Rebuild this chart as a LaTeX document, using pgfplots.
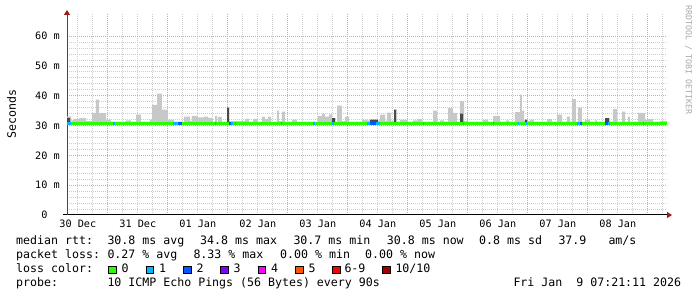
\documentclass[border=0pt]{standalone}
\usepackage{fontspec}
\setmonofont{DejaVu Sans Mono}
\usepackage{pgfplots}
\usepackage{pgfplotstable}
\pgfplotsset{compat=1.18}
\usepgfplotslibrary{fillbetween}
\usetikzlibrary{arrows.meta}
\definecolor{lossA}{HTML}{26FF00}
\definecolor{lossB}{HTML}{00B8FF}
\definecolor{lossC}{HTML}{0059FF}
\definecolor{lossD}{HTML}{7E00FF}
\definecolor{lossE}{HTML}{FF00FF}
\definecolor{lossF}{HTML}{FF5500}
\definecolor{lossG}{HTML}{FF0000}
\definecolor{lossH}{HTML}{A00000}
\definecolor{smoke}{HTML}{C8C8C8}
\definecolor{smokedark}{HTML}{4A4A4A}
\definecolor{gridminor}{HTML}{CDCDCD}
\definecolor{gridmajor}{HTML}{E6A0A0}
\definecolor{arrowred}{HTML}{9B1B1B}
\definecolor{wm}{HTML}{A8A8A8}
\newcommand{\axfont}{\ttfamily\fontsize{10.2bp}{12bp}\selectfont}
\newcommand{\lgfont}{\ttfamily\fontsize{11.6bp}{14bp}\selectfont}
\newcommand{\swatch}[1]{\raisebox{-1bp}{\setlength{\fboxsep}{0pt}\setlength{\fboxrule}{1bp}\fcolorbox{black}{#1}{\rule{0pt}{6.3bp}\rule{6.3bp}{0pt}}}}

% smoke (max of pings), const plot, days since 30 Dec 00:00
\pgfplotstableread{
x y
0.320 33.1
0.387 31.8
0.420 32.2
0.520 32.5
0.637 31.6
0.737 34.2
0.803 38.7
0.853 34.2
0.970 32.0
1.053 31.3
1.303 31.8
1.387 31.3
1.470 33.7
1.553 31.3
1.703 32.0
1.737 37.0
1.820 40.7
1.903 35.4
2.003 32.0
2.103 31.3
2.270 33.0
2.370 31.6
2.403 33.3
2.503 32.8
2.603 33.0
2.670 32.6
2.753 31.3
2.787 33.3
2.820 31.3
2.837 32.9
2.903 31.3
2.987 36.0
3.020 31.5
3.287 32.3
3.353 31.3
3.420 32.3
3.503 31.3
3.570 33.0
3.620 32.3
3.670 33.0
3.720 31.3
3.820 35.0
3.853 31.5
3.903 34.7
3.953 31.3
4.070 32.0
4.153 31.3
4.503 33.3
4.570 34.0
4.620 33.0
4.687 33.8
4.737 32.5
4.787 31.3
4.820 36.7
4.903 31.5
4.953 33.0
5.020 31.3
5.237 32.0
5.320 31.8
5.537 33.7
5.620 31.6
5.653 34.4
5.720 31.6
5.770 35.4
5.820 31.3
5.870 32.0
6.003 31.3
6.087 31.8
6.170 32.2
6.237 31.3
6.420 35.0
6.487 31.3
6.537 31.8
6.603 31.3
6.670 35.9
6.753 34.3
6.820 31.3
6.870 38.2
6.937 31.6
7.003 31.3
7.253 32.0
7.337 31.3
7.420 33.3
7.537 31.3
7.637 31.8
7.687 31.3
7.787 34.5
7.870 40.4
7.903 35.0
7.937 31.6
8.037 32.0
8.103 31.3
8.320 32.2
8.403 31.3
8.487 33.7
8.570 31.3
8.653 33.0
8.703 31.3
8.737 38.9
8.803 31.3
8.837 36.0
8.903 31.3
8.953 32.0
9.037 31.3
9.120 31.8
9.153 31.3
9.287 32.5
9.370 31.3
9.420 35.5
9.487 31.3
9.570 34.7
9.620 31.3
9.670 33.0
9.703 31.3
9.837 34.3
9.953 32.0
9.987 32.2
10.087 31.3
10.203 31.6
10.320 31.6
}\smoketab

% darker smoke
\pgfplotstableread{
x y
0.320 32.6
0.370 30.5
2.987 36.0
3.020 30.5
4.737 32.5
4.787 30.5
5.370 32.0
5.503 30.5
5.770 35.4
5.803 30.5
6.870 34.0
6.920 30.5
7.953 32.0
7.987 30.5
9.287 32.5
9.353 30.5
10.320 30.5
}\darktab

\begin{document}
\begin{tikzpicture}
\begin{axis}[
  at={(67bp,82bp)}, anchor=south west,
  scale only axis, width=600bp, height=202bp,
  xmin=0.32, xmax=10.32, ymin=0, ymax=67.8,
  axis lines*=left,
  x axis line style={black, line width=1bp, shorten >=-5bp, shorten <=-4bp, -{Triangle[length=5bp,width=6bp,color=arrowred]}},
  y axis line style={gray!55!black, line width=1bp, shorten >=-3bp, -{Triangle[length=5bp,width=6bp,color=arrowred]}},
  xtick={0.5,1.5,...,9.5},
  xticklabels={30 Dec,31 Dec,01 Jan,02 Jan,03 Jan,04 Jan,05 Jan,06 Jan,07 Jan,08 Jan},
  minor xtick={0.5,0.75,1.25,1.5,1.75,2.25,2.5,2.75,3.25,3.5,3.75,4.25,4.5,4.75,5.25,5.5,5.75,6.25,6.5,6.75,7.25,7.5,7.75,8.25,8.5,8.75,9.25,9.5,9.75,10.25},
  extra x ticks={1,2,3,4,5,6,7,8,9,10},
  extra x tick labels={},
  extra x tick style={grid=major},
  xmajorgrids=false, xminorgrids=true,
  ytick={0,10,20,30,40,50,60},
  yticklabels={0\hphantom{\ m},10 m,20 m,30 m,40 m,50 m,60 m},
  minor y tick num=4,
  ymajorgrids=true, yminorgrids=true,
  major grid style={gridmajor, line width=1bp, dash pattern=on 1bp off 1bp},
  minor grid style={gridminor, line width=1bp, dash pattern=on 1bp off 1bp},
  major tick length=0pt, minor tick length=0pt,
  xticklabel style={font=\axfont, anchor=base, inner sep=0pt, yshift=-12.3bp},
  yticklabel style={font=\axfont, anchor=east, inner sep=0pt, xshift=-7bp},
]
\addplot[name path=smk, draw=none, const plot] table[x=x,y=y] {\smoketab};
\addplot[name path=dk, draw=none, const plot] table[x=x,y=y] {\darktab};
\addplot[name path=base, draw=none] coordinates {(0.32,30.5) (10.32,30.5)};
\addplot[smoke, draw=none] fill between[of=smk and base];
\addplot[smokedark, draw=none] fill between[of=dk and base];
% median rtt, coloured by loss
\addplot[lossA, line width=3.3bp] coordinates {(0.32,30.8) (10.32,30.8)};
\addplot[lossB, line width=3.3bp, unbounded coords=jump] coordinates {
(0.320,30.8) (0.387,30.8) (0.40,nan)
(1.087,30.8) (1.120,30.8) (1.13,nan)
(2.087,30.8) (2.153,30.8) (2.16,nan)
(2.787,30.8) (2.803,30.8) (2.81,nan)
(3.020,30.8) (3.087,30.8) (3.10,nan)
(3.120,30.8) (3.137,30.8) (3.14,nan)
(3.887,30.8) (3.903,30.8) (3.91,nan)
(4.420,30.8) (4.453,30.8) (4.46,nan)
(4.737,30.8) (4.770,30.8) (4.78,nan)
(5.320,30.8) (5.370,30.8) (5.38,nan)
(5.470,30.8) (5.537,30.8) (5.54,nan)
(6.253,30.8) (6.270,30.8) (6.28,nan)
(6.920,30.8) (6.937,30.8) (6.94,nan)
(7.420,30.8) (7.437,30.8) (7.44,nan)
(7.837,30.8) (7.853,30.8) (7.86,nan)
(7.970,30.8) (7.987,30.8) (7.99,nan)
(8.820,30.8) (8.853,30.8) (8.86,nan)
(9.337,30.8) (9.370,30.8) (9.38,nan)
(9.920,30.8) (9.937,30.8)
};
\addplot[lossC, line width=3.3bp, unbounded coords=jump] coordinates {
(2.170,30.8) (2.237,30.8) (2.24,nan)
(3.020,30.8) (3.053,30.8) (3.06,nan)
(5.370,30.8) (5.470,30.8) (5.48,nan)
(8.870,30.8) (8.903,30.8) (8.91,nan)
(9.287,30.8) (9.337,30.8)
};
\end{axis}
% y axis label and watermark
\node[rotate=90, inner sep=0pt, anchor=center] at (11.5bp,183bp) {\lgfont Seconds};
\node[rotate=-90, inner sep=0pt, anchor=center, text=wm] at (688.5bp,237bp) {\ttfamily\fontsize{8.3bp}{10bp}\selectfont RRDTOOL / TOBI OETIKER};
% legend lines
\begin{scope}[every node/.style={anchor=base west, inner sep=0pt}]
\node at (16bp,52.7bp) {\lgfont median rtt:};
\node at (107.3bp,52.7bp) {\lgfont 30.8 ms avg};
\node at (200bp,52.7bp) {\lgfont 34.8 ms max};
\node at (293.3bp,52.7bp) {\lgfont 30.7 ms min};
\node at (386.7bp,52.7bp) {\lgfont 30.8 ms now};
\node at (479bp,52.7bp) {\lgfont 0.8 ms sd};
\node at (558.3bp,52.7bp) {\lgfont 37.9};
\node at (608.3bp,52.7bp) {\lgfont am/s};
\node at (16bp,38.7bp) {\lgfont packet loss:};
\node at (107.3bp,38.7bp) {\lgfont 0.27 \% avg};
\node at (193.3bp,38.7bp) {\lgfont 8.33 \% max};
\node at (280bp,38.7bp) {\lgfont 0.00 \% min};
\node at (365bp,38.7bp) {\lgfont 0.00 \% now};
\node at (16bp,24.7bp) {\lgfont loss color:};
\node at (108bp,24.7bp) {\lgfont\swatch{lossA}\hspace{5bp}0};
\node at (145.5bp,24.7bp) {\lgfont\swatch{lossB}\hspace{5bp}1};
\node at (183bp,24.7bp) {\lgfont\swatch{lossC}\hspace{5bp}2};
\node at (220bp,24.7bp) {\lgfont\swatch{lossD}\hspace{5bp}3};
\node at (257.5bp,24.7bp) {\lgfont\swatch{lossE}\hspace{5bp}4};
\node at (295bp,24.7bp) {\lgfont\swatch{lossF}\hspace{5bp}5};
\node at (332bp,24.7bp) {\lgfont\swatch{lossG}\hspace{4bp}6-9};
\node at (382bp,24.7bp) {\lgfont\swatch{lossH}\hspace{5bp}10/10};
\node at (16bp,10.5bp) {\lgfont probe:};
\node at (107.3bp,10.5bp) {\lgfont 10 ICMP Echo Pings (56 Bytes) every 90s};
\node at (513.3bp,10.5bp) {\lgfont Fri Jan \ 9 07:21:11 2026};
\end{scope}
\path (0bp,0bp) rectangle (697bp,297bp);
\end{tikzpicture}
\end{document}
